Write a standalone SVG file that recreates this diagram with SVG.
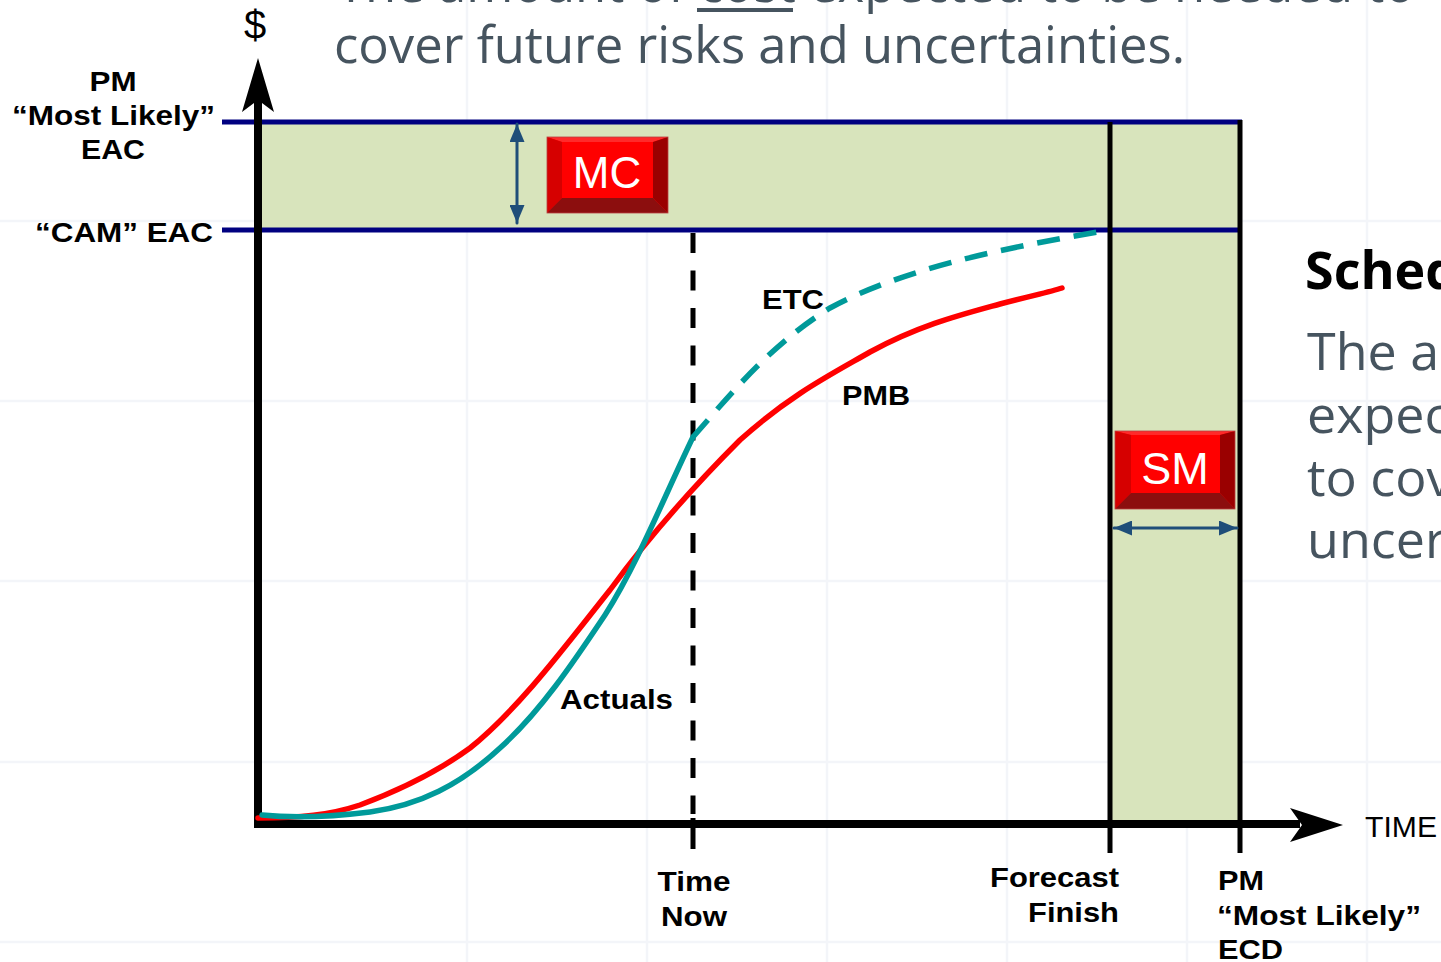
<svg xmlns="http://www.w3.org/2000/svg" width="1441" height="962" viewBox="0 0 1441 962">
<style>
.lbl{font-family:"Liberation Sans",Arial,sans-serif;font-weight:bold;font-size:28px;fill:#000}
.bg{font-family:"Open Sans","Noto Sans",sans-serif;font-size:52px;fill:#46545f}
.head{font-family:"Open Sans","Noto Sans",sans-serif;font-size:52px;font-weight:bold;fill:#000}
.btn{font-family:"Liberation Sans",Arial,sans-serif;font-size:44px;fill:#fff}
.grid{stroke:#f3f5f9;stroke-width:2.5}
.navy{stroke:#000080;stroke-width:5}
.blk{stroke:#000;stroke-width:5}
.band{fill:#d8e4bc}
</style>
<defs>
<marker id="dbl" viewBox="0 0 18 15" refX="18" refY="7.5" markerWidth="18" markerHeight="15" markerUnits="userSpaceOnUse" orient="auto-start-reverse">
<path d="M0,0 L18,7.5 L0,15 Z" fill="#1f4e79"/>
</marker>
</defs>
<rect width="1441" height="962" fill="#fff"/>
<g id="grid">
<line class="grid" x1="467" y1="0" x2="467" y2="962"/>
<line class="grid" x1="647" y1="0" x2="647" y2="962"/>
<line class="grid" x1="827" y1="0" x2="827" y2="962"/>
<line class="grid" x1="1007" y1="0" x2="1007" y2="962"/>
<line class="grid" x1="1187" y1="0" x2="1187" y2="962"/>
<line class="grid" x1="1367" y1="0" x2="1367" y2="962"/>
<line class="grid" x1="0" y1="221" x2="1441" y2="221"/>
<line class="grid" x1="0" y1="401" x2="1441" y2="401"/>
<line class="grid" x1="0" y1="581" x2="1441" y2="581"/>
<line class="grid" x1="0" y1="762" x2="1441" y2="762"/>
<line class="grid" x1="0" y1="942" x2="1441" y2="942"/>
</g>
<g id="background-text">
<text class="bg" x="337" y="2" textLength="1078" lengthAdjust="spacingAndGlyphs">The amount of cost expected to be needed to</text>
<rect x="697" y="8" width="96" height="4" fill="#46545f"/>
<text class="bg" x="334" y="63" textLength="851" lengthAdjust="spacingAndGlyphs">cover future risks and uncertainties.</text>
<text class="head" x="1305" y="289">Sched</text>
<text class="bg" x="1307" y="370">The am</text>
<text class="bg" x="1307" y="433">expec</text>
<text class="bg" x="1307" y="496">to cov</text>
<text class="bg" x="1307" y="558">uncer</text>
</g>
<g id="bands">
<rect class="band" x="258" y="121" width="982" height="109"/>
<rect class="band" x="1110" y="121" width="130" height="703"/>
</g>
<g id="reference-lines">
<line class="navy" x1="222" y1="122" x2="1242" y2="122"/>
<line class="navy" x1="222" y1="230" x2="1242" y2="230"/>
<line class="blk" x1="1110" y1="122" x2="1110" y2="853"/>
<line class="blk" x1="1240" y1="120" x2="1240" y2="853"/>
<line x1="693" y1="233" x2="693" y2="814" stroke="#000" stroke-width="5" stroke-dasharray="20 17.5"/>
<line x1="693" y1="818" x2="693" y2="849" stroke="#000" stroke-width="5"/>
</g>
<g id="axes">
<line x1="258" y1="100" x2="258" y2="828" stroke="#000" stroke-width="8"/>
<path d="M258,58 L274,112 L258,100 L242,112 Z" fill="#000"/>
<line x1="254" y1="824" x2="1300" y2="824" stroke="#000" stroke-width="8"/>
<path d="M1343,825 L1290,808 L1302,825 L1290,842 Z" fill="#000"/>
</g>
<g id="connectors" fill="none" stroke-linecap="round">
<path id="pmb" d="M258,818 C300,818 330,815 360,805 C400,790 440,770 470,748 C520,708 570,640 610,590 C648,538 690,490 740,440 C790,395 830,375 870,352 C920,325 960,315 1000,304 C1030,296 1050,292 1062,288" stroke="#ff0000" stroke-width="5.5"/>
<path id="actuals" d="M262,815 C290,818 330,817 370,812 C420,805 460,785 500,748 C540,712 573,663 605,615 C637,565 665,495 693,437" stroke="#009a9a" stroke-width="5.5"/>
<path id="etc" d="M693,437 C730,395 770,345 830,308 C900,270 1000,248 1110,230" stroke="#009a9a" stroke-width="5.5" stroke-dasharray="23 14" stroke-linecap="butt"/>
<line id="mc-arrow" x1="517" y1="124" x2="517" y2="223" stroke="#1f4e79" stroke-width="3" marker-start="url(#dbl)" marker-end="url(#dbl)"/>
<line id="sm-arrow" x1="1114" y1="528" x2="1237" y2="528" stroke="#1f4e79" stroke-width="3" marker-start="url(#dbl)" marker-end="url(#dbl)"/>
</g>
<g id="mc">
<rect x="547" y="137" width="121" height="76" fill="#ff0000"/>
<polygon points="547,137 668,137 653,142 562,142" fill="#ff2a2a"/>
<polygon points="547,137 562,142 562,198 547,213" fill="#d60000"/>
<polygon points="668,137 653,142 653,198 668,213" fill="#9a0000"/>
<polygon points="547,213 562,198 653,198 668,213" fill="#8c0e0e"/>
<rect x="547" y="137" width="121" height="76" fill="none" stroke="#b84040" stroke-width="0.8"/>
<text class="btn" x="607" y="188" text-anchor="middle">MC</text>
</g>
<g id="sm">
<rect x="1115" y="431" width="120" height="78" fill="#ff0000"/>
<polygon points="1115,431 1235,431 1220,435 1131,435" fill="#ff2a2a"/>
<polygon points="1115,431 1131,435 1131,493 1115,509" fill="#d60000"/>
<polygon points="1235,431 1220,435 1220,493 1235,509" fill="#9a0000"/>
<polygon points="1115,509 1131,493 1220,493 1235,509" fill="#8c0e0e"/>
<rect x="1115" y="431" width="120" height="78" fill="none" stroke="#b84040" stroke-width="0.8"/>
<text class="btn" x="1175" y="484" text-anchor="middle" style="font-size:45px">SM</text>
</g>
<g id="labels">
<text x="255" y="39" text-anchor="middle" font-family="Liberation Sans, Arial, sans-serif" font-size="40" fill="#000">$</text>
<text class="lbl" x="113" y="91" text-anchor="middle" textLength="47" lengthAdjust="spacingAndGlyphs">PM</text>
<text class="lbl" x="12" y="125" textLength="203" lengthAdjust="spacingAndGlyphs">“Most Likely”</text>
<text class="lbl" x="113" y="159" text-anchor="middle" textLength="64" lengthAdjust="spacingAndGlyphs">EAC</text>
<text class="lbl" x="35" y="242" textLength="178" lengthAdjust="spacingAndGlyphs">“CAM” EAC</text>
<text class="lbl" x="762" y="309" textLength="62" lengthAdjust="spacingAndGlyphs">ETC</text>
<text class="lbl" x="842" y="405" textLength="68" lengthAdjust="spacingAndGlyphs">PMB</text>
<text class="lbl" x="560" y="709" textLength="113" lengthAdjust="spacingAndGlyphs">Actuals</text>
<text x="1365" y="837" font-family="Liberation Sans, Arial, sans-serif" font-size="30" fill="#000" textLength="72" lengthAdjust="spacingAndGlyphs">TIME</text>
<text class="lbl" x="694" y="891" text-anchor="middle" textLength="73" lengthAdjust="spacingAndGlyphs">Time</text>
<text class="lbl" x="694" y="926" text-anchor="middle" textLength="66" lengthAdjust="spacingAndGlyphs">Now</text>
<text class="lbl" x="990" y="887" textLength="129" lengthAdjust="spacingAndGlyphs">Forecast</text>
<text class="lbl" x="1028" y="922" textLength="91" lengthAdjust="spacingAndGlyphs">Finish</text>
<text class="lbl" x="1218" y="890" textLength="46" lengthAdjust="spacingAndGlyphs">PM</text>
<text class="lbl" x="1217" y="925" textLength="204" lengthAdjust="spacingAndGlyphs">“Most Likely”</text>
<text class="lbl" x="1218" y="959" textLength="65" lengthAdjust="spacingAndGlyphs">ECD</text>
</g>
</svg>
